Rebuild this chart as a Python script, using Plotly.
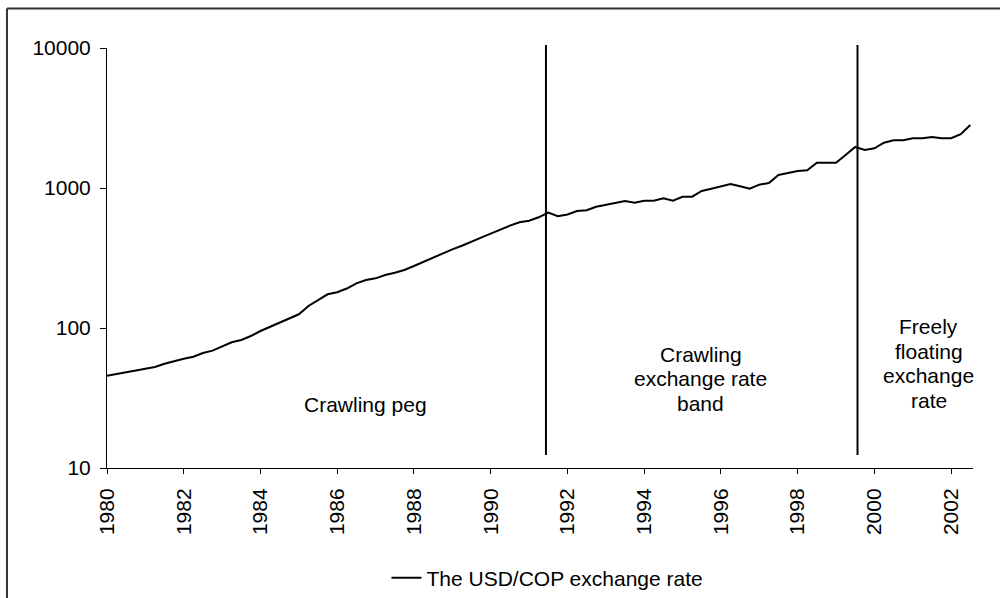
import plotly.graph_objects as go
import math

# Quarterly USD/COP exchange rate, 1980Q1 .. 2002Q3
start_year = 1980.0
step = 0.25
rate = [45.6, 46.9, 48.5, 49.9, 51.2, 52.6, 55.6, 58.1, 60.3, 62.4,
        66.3, 68.9, 73.5, 79.1, 82.1, 87.7, 95.2, 102.2, 109.1, 116.5,
        125.3, 143.6, 158.5, 174.1, 179.9, 191.4, 208.5, 220.2, 226.4, 239.1,
        248.3, 259.5, 277.3, 297.7, 317.9, 339.6, 364.8, 387.0, 416.0, 441.6,
        471.9, 507.2, 538.3, 568.9, 583.9, 617.7, 668.1, 629.1, 647.0, 685.0,
        693.0, 735.1, 759.6, 785.0, 807.6, 785.0, 811.6, 811.6, 844.3, 811.6,
        866.3, 866.3, 952.2, 988.9, 1028, 1068, 1028, 989, 1056, 1086,
        1238, 1280, 1322, 1337, 1517, 1517, 1517, 1721, 1963, 1867,
        1921, 2107, 2191, 2191, 2265, 2265, 2313, 2265, 2265, 2420,
        2818]
years = [start_year + step * i for i in range(len(rate))]

regime_breaks = [1991.44, 1999.56]
regime_line_span = [12.4, 10500]
regime_labels = [["Crawling peg"],
                 ["Crawling", "exchange rate", "band"],
                 ["Freely", "floating", "exchange", "rate"]]
regime_label_x = [1986.73, 1995.47, 2001.42]
regime_label_y = [28.2, 43.3, 56.0]

x_ticks = list(range(1980, 2003, 2))
y_ticks = [10, 100, 1000, 10000]
y_range_log = [1, 4]
series_name = "The USD/COP exchange rate"

FONT = "Liberation Sans, Arial, sans-serif"
FS = 21
LINE_GAP = 24.5


def to_paper_y(v):
    return (math.log10(v) - y_range_log[0]) / (y_range_log[1] - y_range_log[0])


fig = go.Figure()
fig.add_trace(go.Scatter(
    x=years, y=rate, mode="lines", name=series_name,
    line=dict(color="black", width=2),
))

shapes = []
for xb in regime_breaks:
    shapes.append(dict(type="line", xref="x", yref="paper",
                       x0=xb, x1=xb,
                       y0=to_paper_y(regime_line_span[0]),
                       y1=to_paper_y(regime_line_span[1]),
                       line=dict(color="black", width=2)))
# outer chart border (top and left visible)
shapes.append(dict(type="line", xref="paper", yref="paper",
                   x0=-0.1155, x1=1.2, y0=1.094, y1=1.094,
                   line=dict(color="#333333", width=2)))
shapes.append(dict(type="line", xref="paper", yref="paper",
                   x0=-0.1155, x1=-0.1155, y0=-0.5, y1=1.094,
                   line=dict(color="#333333", width=2)))

annotations = []
for lines, ax_, ay_ in zip(regime_labels, regime_label_x, regime_label_y):
    n = len(lines)
    for i, t in enumerate(lines):
        annotations.append(dict(text=t, x=ax_, y=math.log10(ay_), xref="x", yref="y",
                                yshift=((n - 1) / 2 - i) * LINE_GAP,
                                showarrow=False, align="center",
                                font=dict(family=FONT, size=FS, color="black")))

fig.update_layout(
    width=1000, height=598,
    margin=dict(l=107, r=27, t=48, b=130, autoexpand=False),
    paper_bgcolor="white", plot_bgcolor="white",
    font=dict(family=FONT, size=FS, color="black"),
    shapes=shapes, annotations=annotations,
    showlegend=True,
    legend=dict(orientation="h", x=0.3227, xanchor="left", y=-0.262, yanchor="middle",
                font=dict(family=FONT, size=FS, color="black"),
                bgcolor="rgba(0,0,0,0)"),
    xaxis=dict(range=[1980, 2002.57], tickvals=x_ticks, ticktext=[str(v) for v in x_ticks],
               tickangle=-90, ticks="outside", ticklen=5, tickcolor="black",
               ticklabelstandoff=6, automargin=False,
               showline=True, linecolor="black", linewidth=1,
               showgrid=False, zeroline=False,
               tickfont=dict(family=FONT, size=FS, color="black")),
    yaxis=dict(type="log", range=y_range_log, tickvals=y_ticks, ticktext=[str(v) for v in y_ticks],
               ticks="outside", ticklen=6, tickcolor="black",
               ticklabelstandoff=5, automargin=False,
               showline=True, linecolor="black", linewidth=1,
               showgrid=False, zeroline=False,
               tickfont=dict(family=FONT, size=FS, color="black")),
)

fig.write_html("out.html")
